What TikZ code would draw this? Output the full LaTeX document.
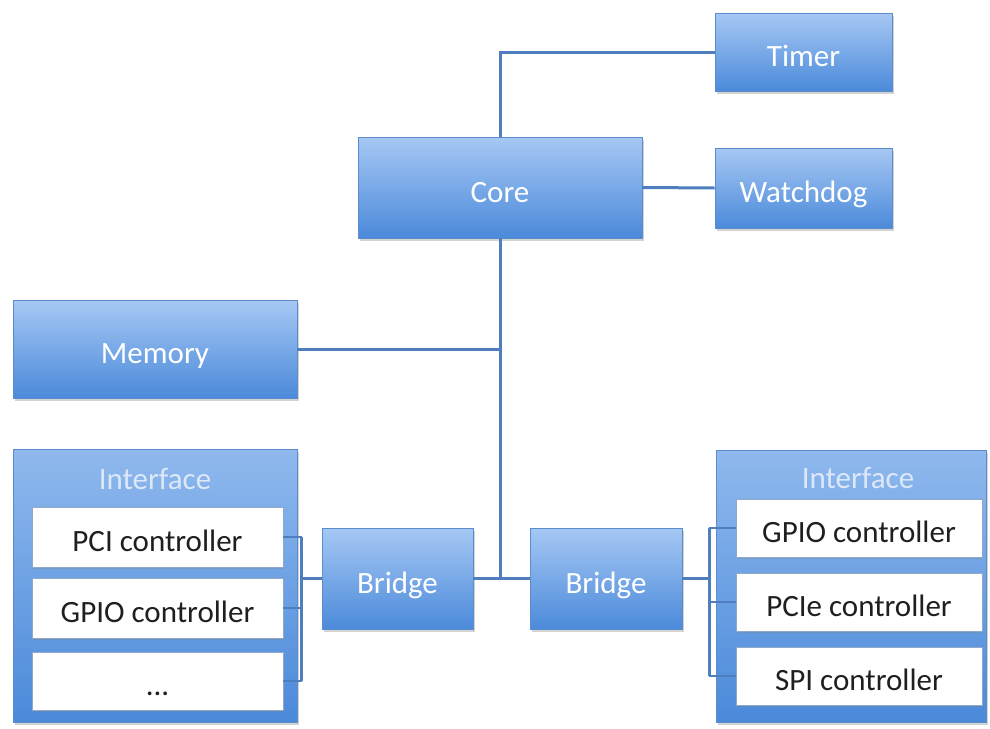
\documentclass[tikz,border=0pt]{standalone}
\usepackage{fontspec}
\setmainfont{Carlito}
\usetikzlibrary{shadows,calc}
\definecolor{boxtop}{HTML}{A6C8F4}
\definecolor{boxbot}{HTML}{4B8ADA}
\definecolor{boxedge}{HTML}{5B8CCB}
\definecolor{linecol}{HTML}{4F7EBE}
\definecolor{labcol}{HTML}{DCE8F8}
\definecolor{inneredge}{HTML}{8FA9C9}
\tikzset{
  bluebox/.style={draw=boxedge, line width=0.8pt, top color=boxtop, bottom color=boxbot,
    text=white, inner sep=0pt, font=\fontsize{31}{37}\selectfont,
    text height=29pt, text depth=0pt,
    drop shadow={opacity=0.35, shadow xshift=1.5pt, shadow yshift=-2.5pt}},
  container/.style={draw=boxedge, line width=0.8pt, top color=boxtop!75!boxbot, bottom color=boxbot,
    inner sep=0pt,
    drop shadow={opacity=0.35, shadow xshift=1.5pt, shadow yshift=-2.5pt}},
  whitebox/.style={draw=inneredge, line width=0.6pt, fill=white, text=black!88,
    inner sep=0pt, font=\fontsize{31}{37}\selectfont,
    text height=29pt, text depth=0pt,
    drop shadow={opacity=0.3, shadow xshift=1pt, shadow yshift=-2pt}},
  boxlabel/.style={text=labcol, inner sep=0pt, font=\fontsize{31}{37}\selectfont},
  conn/.style={draw=linecol, line width=3pt},
  bus/.style={draw=linecol, line width=2.4pt}
}
\begin{document}
\begin{tikzpicture}[x=1pt,y=-1pt]
\useasboundingbox (0,0) rectangle (990,728);
% nodes
\node[bluebox, minimum width=177pt, minimum height=78pt] (timer) at (803.5,52) {Timer};
\node[bluebox, minimum width=177pt, minimum height=80pt] (watchdog) at (803.5,188) {Watchdog};
\node[bluebox, minimum width=284pt, minimum height=101pt] (core) at (500,187.5) {Core};
\node[bluebox, minimum width=284pt, minimum height=98pt] (memory) at (155,349) {Memory};
\node[bluebox, minimum width=151pt, minimum height=101pt] (lbridge) at (397.5,578.5) {Bridge};
\node[bluebox, minimum width=152pt, minimum height=101pt] (rbridge) at (606,578.5) {Bridge};
% left interface
\node[container, minimum width=284pt, minimum height=273pt] (lif) at (155,585.5) {};
\node[boxlabel] (liflabel) at (155,479) {Interface};
\node[whitebox, minimum width=251pt, minimum height=60pt] (pci) at (157.5,537) {PCI controller};
\node[whitebox, minimum width=251pt, minimum height=60pt] (lgpio) at (157.5,608) {GPIO controller};
\node[whitebox, minimum width=251pt, minimum height=58pt] (ldots) at (157.5,681) {...};
% right interface
\node[container, minimum width=270pt, minimum height=272pt] (rif) at (851,586) {};
\node[boxlabel] (riflabel) at (858,478) {Interface};
\node[whitebox, minimum width=246pt, minimum height=58pt] (rgpio) at (859,528) {GPIO controller};
\node[whitebox, minimum width=246pt, minimum height=58pt] (pcie) at (859,602) {PCIe controller};
\node[whitebox, minimum width=246pt, minimum height=58pt] (spi) at (859,676) {SPI controller};
% junctions
\coordinate (j) at (core.south |- lbridge.east);
\coordinate (lbus) at ([xshift=-20pt]lbridge.west);
\coordinate (rbus) at ([xshift=27pt]rbridge.east);
% connectors
\draw[conn] (core.north) |- (timer.west);
\draw[conn] (core.east) -- (watchdog.west);
\draw[conn] (core.south) -- (j);
\draw[conn] (memory.east) -- (memory.east -| j);
\draw[conn] (lbridge.east) -- (rbridge.west);
% left bracket
\draw[bus] (lbus) -- (lbridge.west);
\draw[bus] (pci.east -| lbus) -- (ldots.east -| lbus);
\draw[bus] (pci.east) -- (pci.east -| lbus);
\draw[bus] (lgpio.east) -- (lgpio.east -| lbus);
\draw[bus] (ldots.east) -- (ldots.east -| lbus);
% right bracket
\draw[bus] (rbridge.east) -- (rbus);
\draw[bus] (rgpio.west -| rbus) -- (spi.west -| rbus);
\draw[bus] (rgpio.west -| rbus) -- (rgpio.west);
\draw[bus] (pcie.west -| rbus) -- (pcie.west);
\draw[bus] (spi.west -| rbus) -- (spi.west);
\end{tikzpicture}
\end{document}
